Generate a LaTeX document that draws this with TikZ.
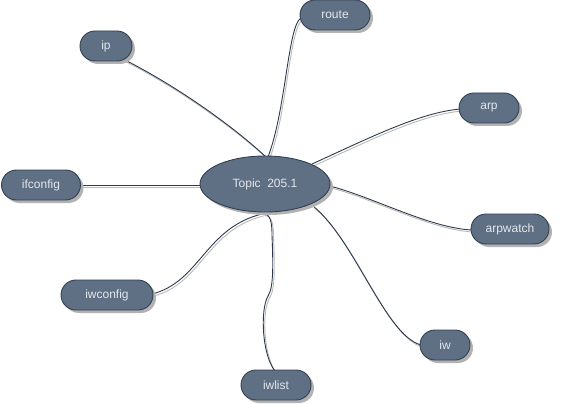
\documentclass[tikz,border=0pt]{standalone}
\usepackage{fontspec}
\setmainfont{Liberation Sans}
\usetikzlibrary{shapes.geometric,shadows}
\definecolor{nodefill}{RGB}{95,111,132}
\definecolor{nodeborder}{RGB}{50,64,82}
\definecolor{nodetext}{RGB}{228,232,238}
\definecolor{linedark}{RGB}{45,58,76}
\definecolor{lineshade}{RGB}{185,185,185}
\tikzset{
  topicbox/.style={draw=nodeborder, line width=0.9pt, fill=nodefill, text=nodetext,
    rounded corners=15pt, minimum height=30pt, inner sep=0pt,
    font=\fontsize{12}{14}\selectfont,
    drop shadow={shadow xshift=3pt, shadow yshift=-3pt, fill=black!30, opacity=1}},
  centerbox/.style={ellipse, draw=nodeborder, line width=0.9pt, fill=nodefill, text=nodetext,
    minimum width=130pt, minimum height=56pt, inner sep=0pt,
    font=\fontsize{12}{14}\selectfont,
    drop shadow={shadow xshift=3pt, shadow yshift=-3pt, fill=black!30, opacity=1}},
  linkmain/.style={draw=linedark, line width=0.9pt},
  linkshade/.style={draw=lineshade, line width=0.9pt, transform canvas={xshift=1.5pt, yshift=-2pt}}
}
\newcommand\mylink[1]{\draw[linkshade] #1; \draw[linkmain] #1;}
\begin{document}
\begin{tikzpicture}[x=1pt, y=-1pt]
\useasboundingbox (0,0) rectangle (563,404);
% links first (drawn under nodes)
\coordinate (cIp) at (125,60);
\coordinate (cRoute) at (301,18);
\coordinate (cArp) at (461,109);
\coordinate (cIfc) at (81,185);
\coordinate (cArpw) at (472,230);
\coordinate (cIwc) at (152,294);
\coordinate (cIw) at (421,345);
\coordinate (cIwl) at (275,371);
\coordinate (tIp) at (266,157);
\coordinate (tRoute) at (268,157);
\coordinate (tArp) at (312,164);
\coordinate (tIfc) at (201,185);
\coordinate (tArpw) at (330,186);
\coordinate (tIwc) at (262,214);
\coordinate (tIw) at (313,206);
\coordinate (tIwl) at (262,213);
\coordinate (mIwl) at (268,296);
\mylink{(cIp) .. controls (180,88) and (235,128) .. (tIp)}
\mylink{(cRoute) .. controls (288,25) and (286,110) .. (tRoute)}
\mylink{(cArp) .. controls (420,112) and (365,140) .. (tArp)}
\mylink{(cIfc) -- (tIfc)}
\mylink{(cArpw) .. controls (430,228) and (375,198) .. (tArpw)}
\mylink{(cIwc) .. controls (200,282) and (205,228) .. (tIwc)}
\mylink{(cIw) .. controls (385,335) and (355,240) .. (tIw)}
\mylink{(cIwl) .. controls (262,355) and (260,310) .. (mIwl) .. controls (274,288) and (273,260) .. (272,235) .. controls (272,220) and (270,214) .. (tIwl)}
% nodes
\node[centerbox] (topic) at (265,184) {Topic\ \ 205.1};
\node[topicbox, minimum width=52pt] (ip) at (106,46) {ip};
\node[topicbox, minimum width=70pt] (route) at (335,15) {route};
\node[topicbox, minimum width=60pt] (arp) at (489,108) {arp};
\node[topicbox, minimum width=79pt] (ifconfig) at (41,185) {ifconfig};
\node[topicbox, minimum width=78pt] (arpwatch) at (510,229) {arpwatch};
\node[topicbox, minimum width=92pt] (iwconfig) at (107,295) {iwconfig};
\node[topicbox, minimum width=50pt] (iw) at (445,345) {iw};
\node[topicbox, minimum width=70pt] (iwlist) at (276,385) {iwlist};
\end{tikzpicture}
\end{document}
